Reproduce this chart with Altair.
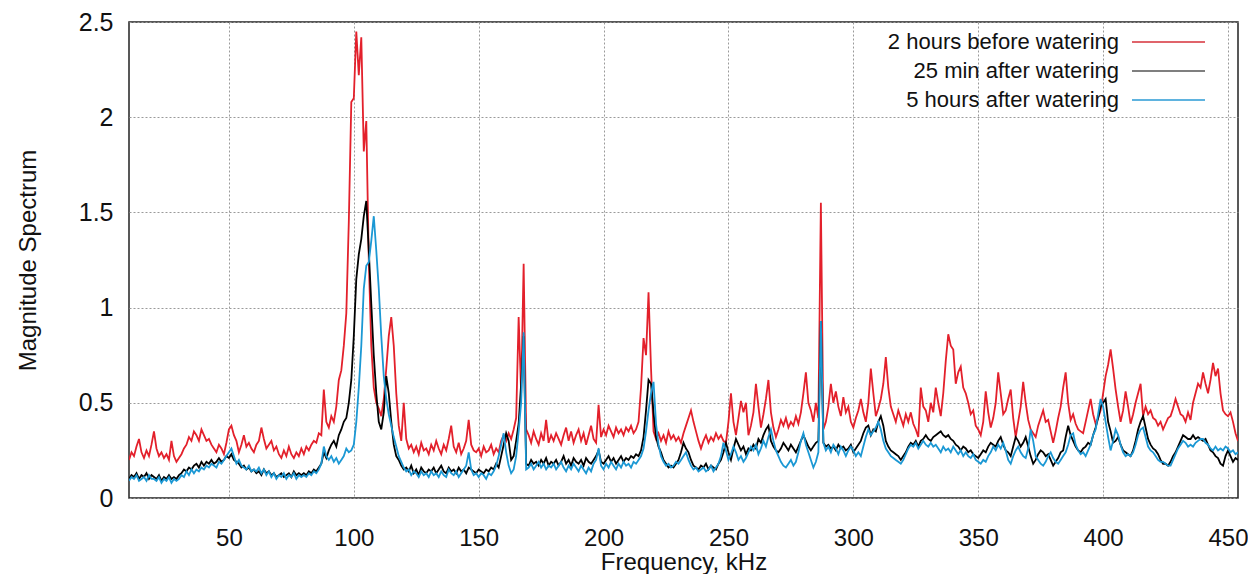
import altair as alt
import pandas as pd

series_names = ["2 hours before watering", "25 min after watering", "5 hours after watering"]
series_colors = ["#e3202b", "#000000", "#1b98d4"]
legend_colors = ["#d6303a", "#555555", "#2a9ad4"]

freq_start = 10
freq_end = 454

red_rows = [
    [.20, .24, .22, .27, .31, .24, .21, .25, .22, .28],
    [.35, .26, .22, .24, .21, .23, .20, .30, .22, .19],
    [.21, .23, .26, .28, .32, .30, .35, .33, .30, .36],
    [.33, .30, .31, .28, .26, .24, .28, .26, .23, .29],
    [.36, .38, .33, .30, .24, .28, .33, .27, .29, .26],
    [.24, .28, .30, .37, .31, .26, .28, .30, .25, .27],
    [.23, .21, .25, .22, .27, .23, .21, .24, .22, .26],
    [.23, .27, .25, .28, .30, .29, .34, .33, .57, .40],
    [.37, .43, .40, .48, .62, .67, .80, .97, 1.45, 2.08],
    [2.10, 2.45, 2.22, 2.42, 1.82, 1.98, 1.25, 0.80, 0.58, 0.50],
    [0.47, 0.43, 0.52, 0.68, 0.85, 0.95, 0.80, 0.55, 0.38, 0.30],
    [0.50, 0.31, 0.26, 0.28, 0.24, 0.27, 0.23, 0.29, 0.25, 0.26],
    [0.23, 0.28, 0.25, 0.30, 0.26, 0.23, 0.28, 0.25, 0.31, 0.38],
    [0.27, 0.24, 0.29, 0.23, 0.26, 0.30, 0.41, 0.28, 0.25, 0.24],
    [0.26, 0.22, 0.27, 0.24, 0.25, 0.28, 0.23, 0.26, 0.24, 0.30],
    [0.33, 0.30, 0.34, 0.31, 0.36, 0.42, 0.95, 0.55, 1.23, 0.36],
    [0.33, 0.29, 0.35, 0.31, 0.28, 0.34, 0.30, 0.41, 0.29, 0.33],
    [0.30, 0.34, 0.31, 0.28, 0.33, 0.37, 0.30, 0.35, 0.29, 0.33],
    [0.36, 0.30, 0.34, 0.28, 0.33, 0.38, 0.31, 0.29, 0.49, 0.32],
    [0.36, 0.33, 0.38, 0.35, 0.32, 0.37, 0.34, 0.36, 0.33, 0.37],
    [0.35, 0.38, 0.34, 0.36, 0.40, 0.58, 0.84, 0.75, 1.08, 0.68],
    [0.35, 0.31, 0.34, 0.30, 0.33, 0.29, 0.35, 0.31, 0.33, 0.30],
    [0.32, 0.29, 0.34, 0.38, 0.42, 0.46, 0.40, 0.35, 0.30, 0.26],
    [0.30, 0.33, 0.29, 0.32, 0.30, 0.34, 0.31, 0.33, 0.30, 0.29],
    [0.40, 0.55, 0.40, 0.33, 0.42, 0.51, 0.45, 0.50, 0.33, 0.38],
    [0.45, 0.60, 0.48, 0.37, 0.44, 0.52, 0.62, 0.45, 0.37, 0.32],
    [0.36, 0.41, 0.38, 0.42, 0.37, 0.40, 0.38, 0.43, 0.39, 0.45],
    [0.55, 0.66, 0.50, 0.46, 0.40, 0.50, 0.42, 1.55, 0.36, 0.40],
    [0.48, 0.60, 0.50, 0.56, 0.48, 0.43, 0.53, 0.45, 0.48, 0.40],
    [0.37, 0.42, 0.46, 0.52, 0.45, 0.40, 0.50, 0.68, 0.55, 0.43],
    [0.47, 0.52, 0.60, 0.74, 0.58, 0.48, 0.44, 0.40, 0.46, 0.42],
    [0.38, 0.44, 0.40, 0.45, 0.39, 0.36, 0.32, 0.58, 0.48, 0.46],
    [0.40, 0.50, 0.45, 0.58, 0.50, 0.43, 0.55, 0.72, 0.86, 0.80],
    [0.78, 0.60, 0.66, 0.69, 0.58, 0.55, 0.50, 0.44, 0.46, 0.38],
    [0.36, 0.33, 0.40, 0.56, 0.45, 0.37, 0.42, 0.50, 0.66, 0.55],
    [0.44, 0.46, 0.52, 0.57, 0.42, 0.32, 0.40, 0.48, 0.61, 0.50],
    [0.41, 0.36, 0.34, 0.32, 0.38, 0.42, 0.46, 0.40, 0.41, 0.35],
    [0.29, 0.35, 0.42, 0.48, 0.58, 0.66, 0.50, 0.41, 0.44, 0.39],
    [0.36, 0.35, 0.34, 0.40, 0.46, 0.52, 0.44, 0.39, 0.42, 0.46],
    [0.55, 0.64, 0.70, 0.78, 0.68, 0.57, 0.48, 0.40, 0.46, 0.56],
    [0.48, 0.39, 0.44, 0.50, 0.55, 0.60, 0.43, 0.48, 0.44, 0.46],
    [0.42, 0.41, 0.38, 0.40, 0.36, 0.39, 0.42, 0.43, 0.47, 0.52],
    [0.48, 0.44, 0.43, 0.40, 0.45, 0.41, 0.50, 0.55, 0.60, 0.58],
    [0.66, 0.60, 0.55, 0.62, 0.71, 0.64, 0.68, 0.55, 0.46, 0.44],
    [0.43, 0.45, 0.40, 0.34, 0.30],
]

black_rows = [
    [.10, .12, .11, .13, .10, .12, .11, .13, .10, .12],
    [.11, .10, .12, .09, .11, .10, .12, .10, .11, .10],
    [.12, .13, .15, .14, .16, .15, .17, .18, .16, .19],
    [.17, .19, .18, .20, .18, .19, .21, .19, .20, .22],
    [.21, .23, .20, .19, .18, .16, .17, .15, .16, .14],
    [.15, .13, .14, .12, .15, .13, .14, .12, .13, .11],
    [.12, .13, .11, .12, .13, .11, .14, .12, .13, .12],
    [.13, .12, .14, .13, .15, .14, .16, .18, .24, .21],
    [.25, .28, .30, .27, .33, .36, .40, .42, .50, .62],
    [0.85, 1.15, 1.28, 1.36, 1.48, 1.56, 1.30, 1.02, 0.75, 0.55],
    [0.40, 0.36, 0.45, 0.64, 0.55, 0.40, 0.28, 0.22, 0.20, 0.17],
    [0.15, 0.16, 0.14, 0.17, 0.13, 0.15, 0.12, 0.16, 0.14, 0.13],
    [0.15, 0.14, 0.16, 0.13, 0.15, 0.17, 0.14, 0.13, 0.16, 0.14],
    [0.15, 0.13, 0.16, 0.14, 0.15, 0.13, 0.16, 0.15, 0.14, 0.13],
    [0.15, 0.14, 0.13, 0.15, 0.14, 0.16, 0.15, 0.18, 0.16, 0.22],
    [0.28, 0.34, 0.30, 0.20, 0.22, 0.30, 0.39, 0.60, 0.85, 0.18],
    [0.17, 0.20, 0.18, 0.19, 0.17, 0.20, 0.18, 0.21, 0.17, 0.19],
    [0.18, 0.20, 0.17, 0.19, 0.22, 0.18, 0.20, 0.17, 0.21, 0.19],
    [0.18, 0.20, 0.17, 0.21, 0.19, 0.18, 0.20, 0.22, 0.25, 0.19],
    [0.18, 0.20, 0.22, 0.19, 0.21, 0.18, 0.20, 0.22, 0.19, 0.21],
    [0.20, 0.22, 0.21, 0.23, 0.22, 0.25, 0.32, 0.46, 0.62, 0.60],
    [0.45, 0.32, 0.27, 0.24, 0.20, 0.18, 0.16, 0.17, 0.16, 0.18],
    [0.20, 0.24, 0.29, 0.26, 0.24, 0.20, 0.17, 0.16, 0.15, 0.17],
    [0.16, 0.18, 0.15, 0.17, 0.16, 0.15, 0.18, 0.20, 0.24, 0.29],
    [0.24, 0.20, 0.26, 0.31, 0.28, 0.25, 0.27, 0.23, 0.26, 0.25],
    [0.28, 0.26, 0.31, 0.29, 0.33, 0.36, 0.38, 0.30, 0.27, 0.25],
    [0.24, 0.26, 0.29, 0.27, 0.25, 0.28, 0.26, 0.24, 0.27, 0.30],
    [0.33, 0.30, 0.27, 0.25, 0.27, 0.29, 0.30, 0.93, 0.29, 0.27],
    [0.28, 0.26, 0.27, 0.25, 0.28, 0.26, 0.27, 0.25, 0.26, 0.28],
    [0.24, 0.26, 0.28, 0.30, 0.34, 0.37, 0.38, 0.33, 0.36, 0.35],
    [0.40, 0.43, 0.38, 0.30, 0.27, 0.25, 0.24, 0.23, 0.22, 0.20],
    [0.22, 0.24, 0.27, 0.29, 0.28, 0.30, 0.27, 0.30, 0.31, 0.33],
    [0.31, 0.30, 0.32, 0.33, 0.34, 0.35, 0.33, 0.32, 0.33, 0.31],
    [0.30, 0.28, 0.27, 0.25, 0.27, 0.26, 0.24, 0.25, 0.23, 0.22],
    [0.21, 0.23, 0.25, 0.24, 0.27, 0.29, 0.28, 0.27, 0.30, 0.32],
    [0.28, 0.25, 0.24, 0.22, 0.27, 0.32, 0.30, 0.27, 0.29, 0.32],
    [0.27, 0.22, 0.18, 0.20, 0.23, 0.25, 0.24, 0.22, 0.23, 0.20],
    [0.17, 0.19, 0.21, 0.24, 0.25, 0.32, 0.38, 0.33, 0.30, 0.27],
    [0.25, 0.24, 0.26, 0.27, 0.29, 0.28, 0.33, 0.37, 0.42, 0.48],
    [0.50, 0.52, 0.40, 0.35, 0.29, 0.30, 0.32, 0.28, 0.25, 0.24],
    [0.23, 0.22, 0.25, 0.30, 0.36, 0.40, 0.43, 0.37, 0.31, 0.28],
    [0.26, 0.25, 0.23, 0.20, 0.18, 0.18, 0.17, 0.19, 0.22, 0.24],
    [0.27, 0.30, 0.33, 0.32, 0.31, 0.31, 0.33, 0.31, 0.32, 0.31],
    [0.30, 0.31, 0.28, 0.25, 0.24, 0.22, 0.21, 0.18, 0.17, 0.22],
    [0.25, 0.22, 0.19, 0.21, 0.20],
]

blue_rows = [
    [.09, .11, .10, .12, .09, .10, .11, .09, .12, .10],
    [.10, .09, .11, .08, .10, .09, .11, .08, .10, .09],
    [.10, .12, .11, .14, .12, .15, .13, .15, .14, .16],
    [.15, .17, .16, .18, .17, .16, .19, .18, .20, .22],
    [.24, .26, .22, .18, .20, .17, .16, .15, .17, .14],
    [.15, .14, .16, .13, .15, .12, .14, .11, .13, .10],
    [.12, .11, .13, .10, .12, .11, .13, .10, .12, .11],
    [.12, .11, .13, .12, .14, .13, .15, .18, .27, .22],
    [.20, .22, .19, .21, .18, .20, .22, .26, .24, .25],
    [0.28, 0.40, 0.58, 0.80, 1.10, 1.22, 1.24, 1.35, 1.48, 1.30],
    [1.10, 0.85, 0.64, 0.52, 0.44, 0.38, 0.32, 0.27, 0.22, 0.19],
    [0.16, 0.14, 0.15, 0.12, 0.14, 0.13, 0.11, 0.14, 0.12, 0.13],
    [0.11, 0.14, 0.12, 0.13, 0.11, 0.14, 0.12, 0.11, 0.15, 0.13],
    [0.12, 0.14, 0.11, 0.13, 0.15, 0.17, 0.24, 0.15, 0.12, 0.13],
    [0.11, 0.13, 0.12, 0.10, 0.13, 0.12, 0.14, 0.17, 0.22, 0.28],
    [0.34, 0.24, 0.17, 0.13, 0.15, 0.22, 0.35, 0.50, 0.87, 0.15],
    [0.16, 0.18, 0.15, 0.17, 0.19, 0.16, 0.18, 0.15, 0.17, 0.16],
    [0.18, 0.15, 0.17, 0.19, 0.16, 0.14, 0.17, 0.15, 0.18, 0.16],
    [0.14, 0.17, 0.15, 0.13, 0.16, 0.14, 0.18, 0.20, 0.26, 0.17],
    [0.15, 0.18, 0.16, 0.19, 0.17, 0.15, 0.18, 0.16, 0.19, 0.17],
    [0.18, 0.16, 0.19, 0.18, 0.20, 0.22, 0.26, 0.35, 0.46, 0.55],
    [0.61, 0.39, 0.28, 0.22, 0.19, 0.17, 0.18, 0.16, 0.17, 0.19],
    [0.18, 0.20, 0.22, 0.24, 0.20, 0.17, 0.15, 0.16, 0.14, 0.15],
    [0.16, 0.14, 0.15, 0.17, 0.14, 0.16, 0.18, 0.22, 0.29, 0.25],
    [0.20, 0.23, 0.27, 0.24, 0.20, 0.22, 0.19, 0.21, 0.24, 0.27],
    [0.25, 0.28, 0.23, 0.26, 0.30, 0.27, 0.32, 0.36, 0.30, 0.25],
    [0.22, 0.19, 0.17, 0.16, 0.18, 0.20, 0.17, 0.19, 0.24, 0.30],
    [0.34, 0.28, 0.24, 0.20, 0.16, 0.19, 0.24, 0.93, 0.29, 0.25],
    [0.27, 0.24, 0.28, 0.26, 0.23, 0.27, 0.25, 0.22, 0.25, 0.27],
    [0.25, 0.22, 0.24, 0.22, 0.27, 0.32, 0.36, 0.33, 0.35, 0.37],
    [0.40, 0.36, 0.30, 0.26, 0.24, 0.22, 0.21, 0.20, 0.19, 0.18],
    [0.20, 0.23, 0.26, 0.28, 0.27, 0.29, 0.26, 0.28, 0.30, 0.28],
    [0.27, 0.29, 0.27, 0.28, 0.26, 0.24, 0.27, 0.25, 0.26, 0.24],
    [0.27, 0.25, 0.23, 0.25, 0.22, 0.24, 0.22, 0.21, 0.23, 0.20],
    [0.19, 0.18, 0.20, 0.19, 0.22, 0.24, 0.27, 0.25, 0.28, 0.26],
    [0.29, 0.25, 0.20, 0.18, 0.22, 0.25, 0.27, 0.24, 0.22, 0.21],
    [0.26, 0.36, 0.30, 0.22, 0.20, 0.18, 0.17, 0.19, 0.22, 0.24],
    [0.21, 0.19, 0.18, 0.20, 0.22, 0.24, 0.28, 0.33, 0.34, 0.28],
    [0.25, 0.23, 0.24, 0.22, 0.25, 0.28, 0.33, 0.36, 0.44, 0.52],
    [0.48, 0.40, 0.32, 0.25, 0.30, 0.36, 0.33, 0.28, 0.24, 0.22],
    [0.23, 0.22, 0.24, 0.28, 0.33, 0.36, 0.37, 0.32, 0.27, 0.25],
    [0.24, 0.22, 0.20, 0.19, 0.19, 0.18, 0.17, 0.17, 0.20, 0.23],
    [0.26, 0.28, 0.30, 0.29, 0.27, 0.28, 0.27, 0.29, 0.30, 0.31],
    [0.31, 0.29, 0.28, 0.26, 0.25, 0.27, 0.25, 0.26, 0.25, 0.27],
    [0.26, 0.24, 0.25, 0.23, 0.24],
]

x_ticks = [50, 100, 150, 200, 250, 300, 350, 400, 450]
y_ticks = [0, 0.5, 1, 1.5, 2, 2.5]

freqs = list(range(freq_start, freq_end + 1))
all_rows = [red_rows, black_rows, blue_rows]
frames = []
for name, rows in zip(series_names, all_rows):
    vals = [v for r in rows for v in r]
    assert len(vals) == len(freqs), (name, len(vals))
    frames.append(pd.DataFrame({"freq": freqs, "value": vals, "series": name}))
df = pd.concat(frames, ignore_index=True)

FONT = "Liberation Sans"

x_enc = alt.X(
    "freq:Q",
    scale=alt.Scale(domain=[freq_start, freq_end], nice=False, zero=False),
    axis=alt.Axis(values=x_ticks, title="Frequency, kHz", format="d"),
)
y_enc = alt.Y(
    "value:Q",
    scale=alt.Scale(domain=[0, 2.5], nice=False),
    axis=alt.Axis(values=y_ticks, title="Magnitude Spectrum", format="~g"),
)

layers = []
for name, col in zip(series_names, series_colors):
    layers.append(
        alt.Chart(df)
        .transform_filter(alt.datum.series == name)
        .mark_line(strokeWidth=1.8, color=col, clip=True)
        .encode(x=x_enc, y=y_enc)
    )

# legend (text right-aligned, line sample to the right)
leg_text_x = 990
leg_line_x1 = 1003
leg_line_x2 = 1076
leg_y0 = 20
leg_dy = 29
for i, (name, col) in enumerate(zip(series_names, legend_colors)):
    ldf = pd.DataFrame({"label": [name]})
    layers.append(
        alt.Chart(ldf)
        .mark_text(align="right", baseline="middle", font=FONT, fontSize=22, color="#111111")
        .encode(text="label:N", x=alt.value(leg_text_x), y=alt.value(leg_y0 + leg_dy * i))
    )
    layers.append(
        alt.Chart(ldf)
        .mark_rule(color=col, strokeWidth=1.6)
        .encode(x=alt.value(leg_line_x1), x2=alt.value(leg_line_x2), y=alt.value(leg_y0 + leg_dy * i))
    )

chart = (
    alt.layer(*layers)
    .properties(
        width=1109,
        height=476,
        autosize=alt.AutoSizeParams(type="none"),
        padding={"left": 121, "top": 14, "right": 10, "bottom": 76},
        background="white",
    )
    .configure_view(stroke="#222222", strokeWidth=1.5)
    .configure_axis(
        grid=True,
        gridColor="#9a9a9a",
        gridDash=[2, 2],
        gridWidth=1,
        domain=False,
        ticks=False,
        labelFont=FONT,
        labelFontSize=25,
        labelColor="#111111",
        titleFont=FONT,
        titleFontSize=24,
        titleFontWeight="normal",
        titleColor="#111111",
    )
    .configure_axisX(labelPadding=28, labelFontSize=24, titlePadding=0)
    .configure_axisY(labelPadding=16, titlePadding=38)
)

chart.save("out.html", embed_options={"renderer": "svg", "actions": False})
